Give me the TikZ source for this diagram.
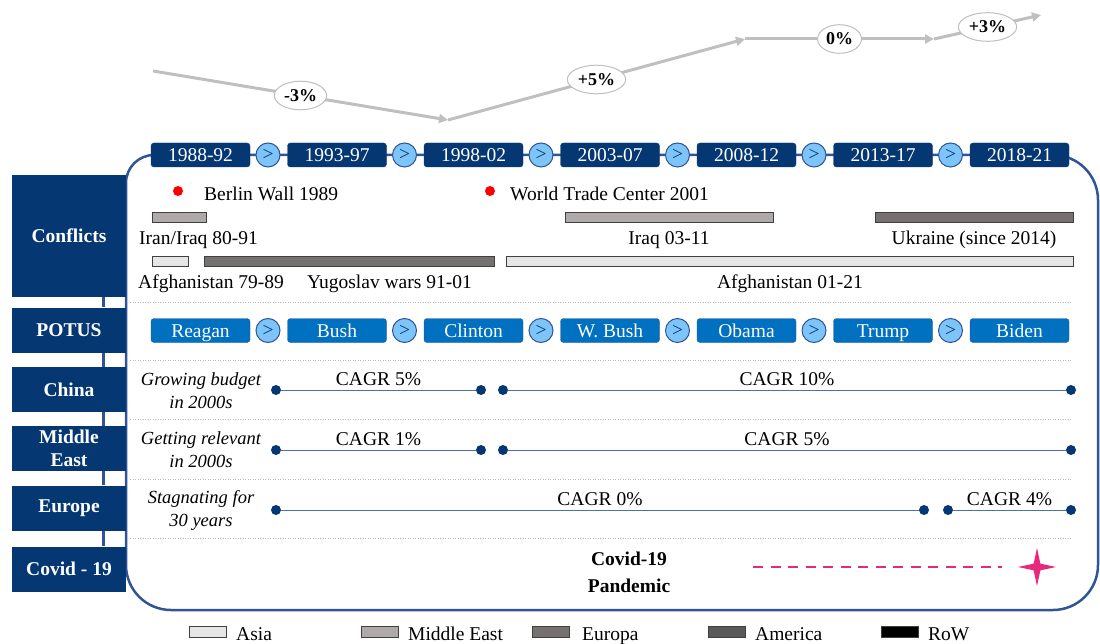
\documentclass[tikz,border=0pt]{standalone}
\usepackage{fontspec}
\setmainfont{Liberation Serif}
\usepackage{tikz}
\usetikzlibrary{calc,shapes,arrows.meta}
\definecolor{darknavy}{RGB}{5,56,114}
\definecolor{potusblue}{RGB}{0,112,192}
\definecolor{skyblue}{RGB}{125,196,248}
\definecolor{frameblue}{RGB}{47,85,151}
\definecolor{cagrblue}{RGB}{74,114,176}
\definecolor{growthgrey}{RGB}{191,191,191}
\definecolor{asiagrey}{RGB}{231,230,230}
\definecolor{megrey}{RGB}{174,170,170}
\definecolor{eurogrey}{RGB}{118,113,113}
\definecolor{amgrey}{RGB}{89,89,89}
\definecolor{covidpink}{RGB}{231,41,125}
\newcommand\diagfont{\fontsize{19.5}{23}\selectfont}
\tikzstyle{periodbox}=[rectangle,rounded corners=3pt,draw=darknavy,fill=darknavy,text=white,
                       minimum width=99pt,minimum height=24pt,inner sep=0pt,font=\diagfont,
                       text height=13pt,text depth=0pt]
\tikzstyle{potusbox}=[periodbox,fill=potusblue,draw=frameblue]
\tikzstyle{nextcircle}=[circle,draw=frameblue,line width=1pt,fill=skyblue,text=darknavy,
                        minimum size=24pt,inner sep=0pt,font=\diagfont]
\tikzstyle{rowbox}=[rectangle,fill=darknavy,text=white,minimum width=114pt,minimum height=45pt,
                    align=center,inner sep=2pt,font=\diagfont\bfseries]
\tikzstyle{pctlabel}=[ellipse,draw=growthgrey,fill=white,line width=1pt,inner xsep=2pt,
                      inner ysep=4pt,font=\fontsize{18}{20}\selectfont\bfseries]
\tikzstyle{growth}=[draw=growthgrey,line width=3pt,-{Triangle[length=9pt,width=9pt]}]
\tikzstyle{eventdot}=[circle,fill=red,minimum size=10pt,inner sep=0pt]
\tikzstyle{eventtext}=[font=\diagfont,inner sep=0pt]
\tikzstyle{warbar}=[rectangle,draw=black!75,line width=0.8pt,minimum height=10pt,inner sep=0pt]
\tikzstyle{cagrdot}=[circle,fill=darknavy,minimum size=10pt,inner sep=0pt]
\tikzstyle{cagrline}=[draw=cagrblue,line width=1pt]
\tikzstyle{cagrlabel}=[above,font=\diagfont,inner sep=0pt,inner ysep=4pt]
\tikzstyle{budgetnote}=[font=\fontsize{18.5}{23}\selectfont\itshape,align=center,inner sep=0pt]
\tikzstyle{separator}=[draw=gray!55,line width=0.8pt,dash pattern=on 1pt off 1.5pt]
\tikzstyle{frameline}=[draw=frameblue,line width=2.5pt]
\tikzstyle{legendbox}=[rectangle,draw=black!75,line width=0.8pt,minimum width=37pt,
                       minimum height=11pt,inner sep=0pt]
\newcommand\colstart{200.5}
\newcommand\colspacing{136.5}
\newcommand\circleshift{67.5}

\begin{document}
\begin{tikzpicture}[x=1pt,y=-1pt]
    	\useasboundingbox (0,0) rectangle (1100,644);
    	\draw[frameline,rounded corners=28pt] (126,300) -- (126,155) -- (300,155);
    	\draw[frameline,rounded corners=45pt] (300,155) -- (1098,155) -- (1098,610) -- (126,610) -- (126,300);
    	\draw[separator] (130,302) -- (1072,302);
    	\draw[separator] (130,360) -- (1072,360);
    	\draw[separator] (130,419) -- (1072,419);
    	\draw[separator] (130,479) -- (1072,479);
    	\draw[separator] (130,538) -- (1072,538);

    	\coordinate (g0) at (153,71);
    	\coordinate (g1) at (448,120);
    	\coordinate (g2) at (745,39);
    	\coordinate (g3) at (934,39);
    	\coordinate (g4) at (1041,15);
    	\draw[growth] (g0) -- node[pctlabel] (pct one) {-3\%} (g1);
    	\draw[growth] (g1) -- node[pctlabel] (pct two) {+5\%} (g2);
    	\draw[growth] (g2) -- node[pctlabel] (pct three) {0\%} (g3);
    	\draw[growth] (g3) -- node[pctlabel] (pct four) {+3\%} (g4);

    	\node [periodbox] (period 1) at ($(\colstart+\colspacing*0,155)$) {1988-92};
    	\node [nextcircle] (period next 1) at ($(\colstart+\colspacing*0+\circleshift,155)$) {>};
    	\node [periodbox] (period 2) at ($(\colstart+\colspacing*1,155)$) {1993-97};
    	\node [nextcircle] (period next 2) at ($(\colstart+\colspacing*1+\circleshift,155)$) {>};
    	\node [periodbox] (period 3) at ($(\colstart+\colspacing*2,155)$) {1998-02};
    	\node [nextcircle] (period next 3) at ($(\colstart+\colspacing*2+\circleshift,155)$) {>};
    	\node [periodbox] (period 4) at ($(\colstart+\colspacing*3,155)$) {2003-07};
    	\node [nextcircle] (period next 4) at ($(\colstart+\colspacing*3+\circleshift,155)$) {>};
    	\node [periodbox] (period 5) at ($(\colstart+\colspacing*4,155)$) {2008-12};
    	\node [nextcircle] (period next 5) at ($(\colstart+\colspacing*4+\circleshift,155)$) {>};
    	\node [periodbox] (period 6) at ($(\colstart+\colspacing*5,155)$) {2013-17};
    	\node [nextcircle] (period next 6) at ($(\colstart+\colspacing*5+\circleshift,155)$) {>};
    	\node [periodbox] (period 7) at ($(\colstart+\colspacing*6,155)$) {2018-21};

    	\node [rowbox,minimum height=122pt] (conflicts) at (69,236) {Conflicts};
    	\node [rowbox] (potus) at (69,330) {POTUS};
    	\node [rowbox] (china) at (69,389.5) {China};
    	\node [rowbox] (middle east) at (69,448.5) {Middle\\East};
    	\node [rowbox] (europe) at (69,508) {Europe};
    	\node [rowbox] (covid) at (69,569) {Covid - 19};
    	\draw[frameline,line width=3pt]
    		([xshift=34pt]conflicts.south) -- ([xshift=34pt]potus.north)
    		([xshift=34pt]potus.south) -- ([xshift=34pt]china.north)
    		([xshift=34pt]china.south) -- ([xshift=34pt]middle east.north)
    		([xshift=34pt]middle east.south) -- ([xshift=34pt]europe.north)
    		([xshift=34pt]europe.south) -- ([xshift=34pt]covid.north);

    	\node [eventdot] (berlin dot) at (178,191) {};
    	\node [eventtext,anchor=base west] (berlin) at (204,201) {Berlin Wall 1989};
    	\node [eventdot] (wtc dot) at (490,191) {};
    	\node [eventtext,anchor=base west] (wtc) at (510,201) {World Trade Center 2001};
    	\node [warbar,fill=megrey,minimum width=54pt] (iran iraq bar) at (179,217) {};
    	\node [eventtext,anchor=base west] (iran iraq) at (139,245) {Iran/Iraq 80-91};
    	\node [warbar,fill=megrey,minimum width=208pt] (iraq bar) at (669,217) {};
    	\node [eventtext,anchor=base] (iraq) at (669,245) {Iraq 03-11};
    	\node [warbar,fill=eurogrey,minimum width=198pt] (ukraine bar) at (974,217) {};
    	\node [eventtext,anchor=base] (ukraine) at (974,245) {Ukraine (since 2014)};
    	\node [warbar,fill=asiagrey,minimum width=36pt] (afghan old bar) at (170,261.5) {};
    	\node [eventtext,anchor=base west] (afghan old) at (138,288) {Afghanistan 79-89};
    	\node [warbar,fill=eurogrey,minimum width=290pt] (yugoslav bar) at (349,261.5) {};
    	\node [eventtext,anchor=base west] (yugoslav) at (307,288) {Yugoslav wars 91-01};
    	\node [warbar,fill=asiagrey,minimum width=567pt] (afghan new bar) at (789.5,261.5) {};
    	\node [eventtext,anchor=base] (afghan new) at (790,288) {Afghanistan 01-21};

    	\node [potusbox] (reagan) at ($(\colstart+\colspacing*0,330.5)$) {Reagan};
    	\node [nextcircle] (potus next 1) at ($(\colstart+\colspacing*0+\circleshift,330.5)$) {>};
    	\node [potusbox] (bush) at ($(\colstart+\colspacing*1,330.5)$) {Bush};
    	\node [nextcircle] (potus next 2) at ($(\colstart+\colspacing*1+\circleshift,330.5)$) {>};
    	\node [potusbox] (clinton) at ($(\colstart+\colspacing*2,330.5)$) {Clinton};
    	\node [nextcircle] (potus next 3) at ($(\colstart+\colspacing*2+\circleshift,330.5)$) {>};
    	\node [potusbox] (w bush) at ($(\colstart+\colspacing*3,330.5)$) {W. Bush};
    	\node [nextcircle] (potus next 4) at ($(\colstart+\colspacing*3+\circleshift,330.5)$) {>};
    	\node [potusbox] (obama) at ($(\colstart+\colspacing*4,330.5)$) {Obama};
    	\node [nextcircle] (potus next 5) at ($(\colstart+\colspacing*4+\circleshift,330.5)$) {>};
    	\node [potusbox] (trump) at ($(\colstart+\colspacing*5,330.5)$) {Trump};
    	\node [nextcircle] (potus next 6) at ($(\colstart+\colspacing*5+\circleshift,330.5)$) {>};
    	\node [potusbox] (biden) at ($(\colstart+\colspacing*6,330.5)$) {Biden};

    	\node [budgetnote] (china note) at (201,390.5) {Growing budget\\in 2000s};
    	\node [cagrdot] (china a) at (276,390) {};
    	\node [cagrdot] (china b) at (481,390) {};
    	\node [cagrdot] (china c) at (503,390) {};
    	\node [cagrdot] (china d) at (1071,390) {};
    	\draw[cagrline] (china a) -- node[cagrlabel] {CAGR 5\%} (china b);
    	\draw[cagrline] (china c) -- node[cagrlabel] {CAGR 10\%} (china d);

    	\node [budgetnote] (middle east note) at (201,449.5) {Getting relevant\\in 2000s};
    	\node [cagrdot] (middle east a) at (276,450) {};
    	\node [cagrdot] (middle east b) at (481,450) {};
    	\node [cagrdot] (middle east c) at (503,450) {};
    	\node [cagrdot] (middle east d) at (1071,450) {};
    	\draw[cagrline] (middle east a) -- node[cagrlabel] {CAGR 1\%} (middle east b);
    	\draw[cagrline] (middle east c) -- node[cagrlabel] {CAGR 5\%} (middle east d);

    	\node [budgetnote] (europe note) at (201,510) {Stagnating for\\30 years};
    	\node [cagrdot] (europe a) at (276,510) {};
    	\node [cagrdot] (europe b) at (924,510) {};
    	\node [cagrdot] (europe c) at (948,510) {};
    	\node [cagrdot] (europe d) at (1071,510) {};
    	\draw[cagrline] (europe a) -- node[cagrlabel] {CAGR 0\%} (europe b);
    	\draw[cagrline] (europe c) -- node[cagrlabel] {CAGR 4\%} (europe d);

    	\node [font=\fontsize{19.5}{27}\selectfont\bfseries,align=center,inner sep=0pt] (pandemic) at (629,572.5) {Covid-19\\Pandemic};
    	\node [star,star points=4,star point ratio=4,fill=covidpink,minimum size=38pt,inner sep=0pt] (spark) at (1037,567) {};
    	\coordinate (covid dash) at (753,567);
    	\draw[covidpink,line width=2.5pt,dash pattern=on 10pt off 7.5pt] (covid dash) -- ([xshift=-15pt]spark.west);

    	\node [legendbox,fill=asiagrey] (asia key) at (207.5,631.5) {};
    	\node [eventtext,anchor=base west] (asia) at (236,640) {Asia};
    	\node [legendbox,fill=megrey] (middle east key) at (380,631.5) {};
    	\node [eventtext,anchor=base west] (middle east text) at (408,640) {Middle East};
    	\node [legendbox,fill=eurogrey] (europa key) at (550.5,631.5) {};
    	\node [eventtext,anchor=base west] (europa) at (582,640) {Europa};
    	\node [legendbox,fill=amgrey] (america key) at (726.5,631.5) {};
    	\node [eventtext,anchor=base west] (america) at (755,640) {America};
    	\node [legendbox,fill=black] (row key) at (900,631.5) {};
    	\node [eventtext,anchor=base west] (row) at (928,640) {RoW};
    \end{tikzpicture}
\end{document}
